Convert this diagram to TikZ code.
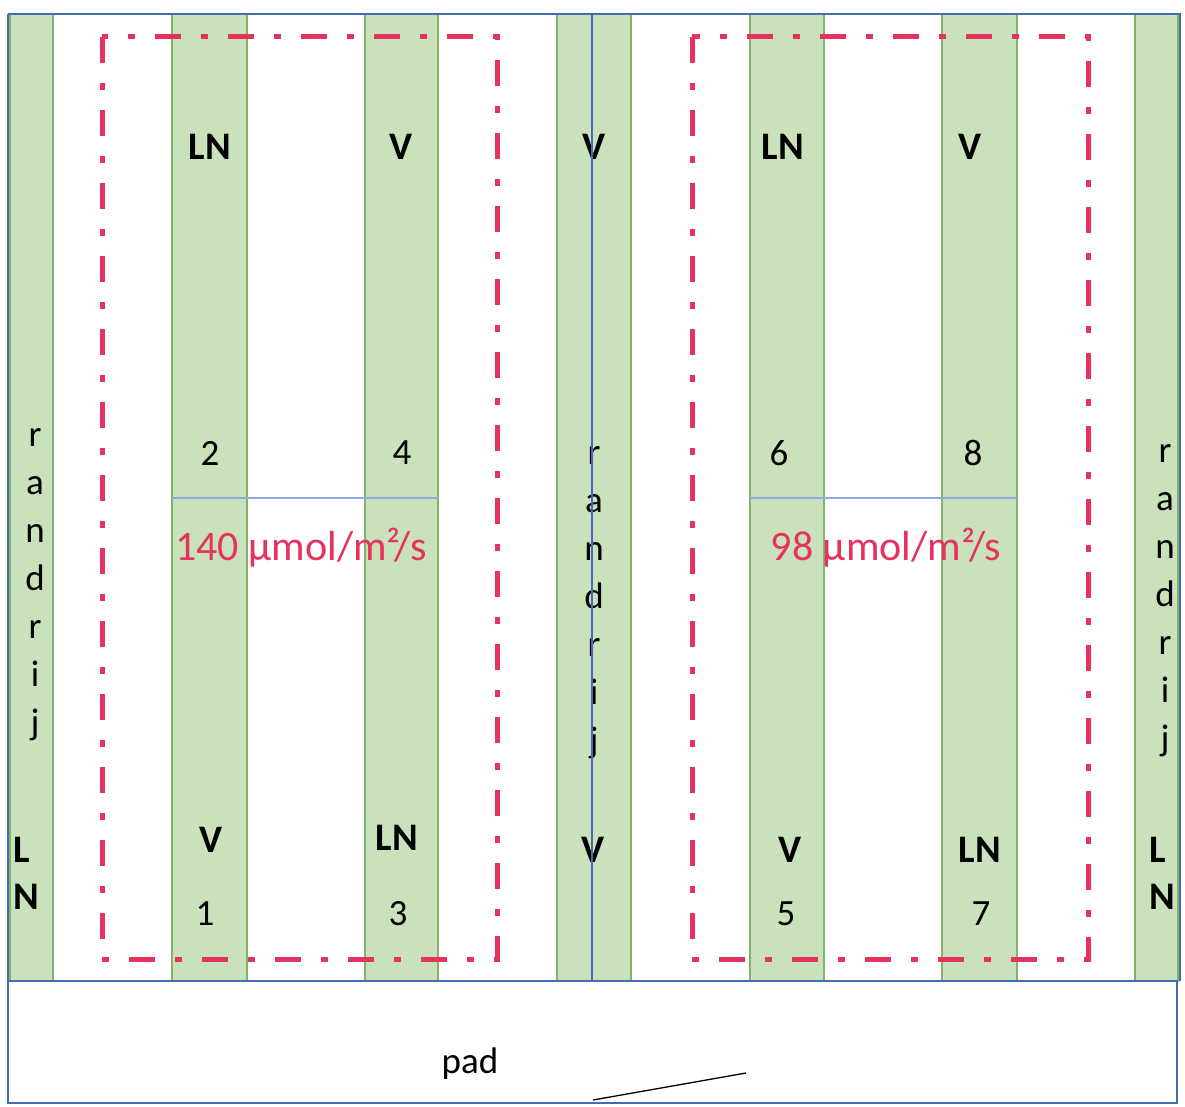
\documentclass[tikz,border=0pt]{standalone}
\usepackage{fontspec}
\setmainfont{Carlito}
\definecolor{stripfill}{RGB}{201,226,188}
\definecolor{stripdraw}{RGB}{132,178,104}
\definecolor{frameblue}{RGB}{68,108,176}
\definecolor{midblue}{RGB}{143,170,220}
\definecolor{zonered}{RGB}{230,50,92}
\begin{document}
\begin{tikzpicture}[x=1pt,y=-1pt,
  strip/.style={fill=stripfill,draw=stripdraw,line width=1.5pt},
  frame/.style={draw=frameblue,line width=1.6pt},
  divider/.style={draw=midblue,line width=1.6pt},
  zone/.style={draw=zonered,line width=5pt,dash pattern=on 26pt off 20pt on 7pt off 20pt},
  lbl/.style={font=\fontsize{37}{40}\selectfont,inner sep=0pt,text=black},
  blbl/.style={lbl,font=\fontsize{39}{42}\selectfont\bfseries},
  rlbl/.style={font=\fontsize{42}{46}\selectfont,inner sep=0pt,text=zonered,anchor=base}
]
\useasboundingbox (0,0) rectangle (1185,1107);
% strips
\path[strip] (10,14) rectangle (53,981);
\path[strip] (172,14) rectangle (247,981);
\path[strip] (365,14) rectangle (438,981);
\path[strip] (557,14) rectangle (631,981);
\path[strip] (750,14) rectangle (824,981);
\path[strip] (942,14) rectangle (1017,981);
\path[strip] (1135,14) rectangle (1178,981);
% dividers
\path[divider] (172,498) -- (438,498);
\path[divider] (750,498) -- (1017,498);
% zones
\path[zone] (102,37) rectangle (497,959);
\path[zone] (692,37) rectangle (1088,959);
% top labels
\node[blbl] (t1) at (210,147) {LN};
\node[blbl] (t2) at (401,147) {V};
\node[blbl] (t3) at (594,147) {V};
\node[blbl] (t4) at (783,147) {LN};
\node[blbl] (t5) at (970,147) {V};
% numbers
\node[lbl] (n2) at (210,453) {2};
\node[lbl] (n4) at (402,453) {4};
\node[lbl] (n6) at (779,453) {6};
\node[lbl] (n8) at (973,453) {8};
\node[lbl] (n1) at (205,914) {1};
\node[lbl] (n3) at (398,914) {3};
\node[lbl] (n5) at (786,914) {5};
\node[lbl] (n7) at (981,914) {7};
% bottom labels
\node[blbl] (b1) at (211,840) {V};
\node[blbl] (b2) at (397,838) {LN};
\node[blbl] (b3) at (593,850) {V};
\node[blbl] (b4) at (790,850) {V};
\node[blbl] (b5) at (980,850) {LN};
\node[blbl] (ll1) at (22,850) {L};
\node[blbl] (ll2) at (26,897) {N};
\node[blbl] (rl1) at (1158,850) {L};
\node[blbl] (rl2) at (1162,897) {N};
% intensities
\node[rlbl] (i1) at (301,560) {140 µmol/m²/s};
\node[rlbl] (i2) at (886,560) {98 µmol/m²/s};
% randrij vertical texts
\foreach \c [count=\i] in {r,a,n,d,r,i,j}{
  \node[lbl,anchor=base] (rl\i) at (35,446+48*\i-48) {\c};
  \node[lbl,anchor=base] (rm\i) at (594,464+48*\i-48) {\c};
  \node[lbl,anchor=base] (rr\i) at (1165,462+48*\i-48) {\c};
}
% frames
\path[frame] (8,14) -- (1180,14) -- (1180,981);
\path[frame] (8,14) -- (8,981);
\path[frame] (592,14) -- (592,981);
\path[frame] (8,981) rectangle (1177,1103);
% pad
\node[lbl,anchor=base] (pad) at (470,1073) {pad};
\coordinate (s1) at (593,1100);
\coordinate (s2) at (746,1073);
\draw[line width=1.3pt,black] (s1) -- (s2);
\end{tikzpicture}
\end{document}
